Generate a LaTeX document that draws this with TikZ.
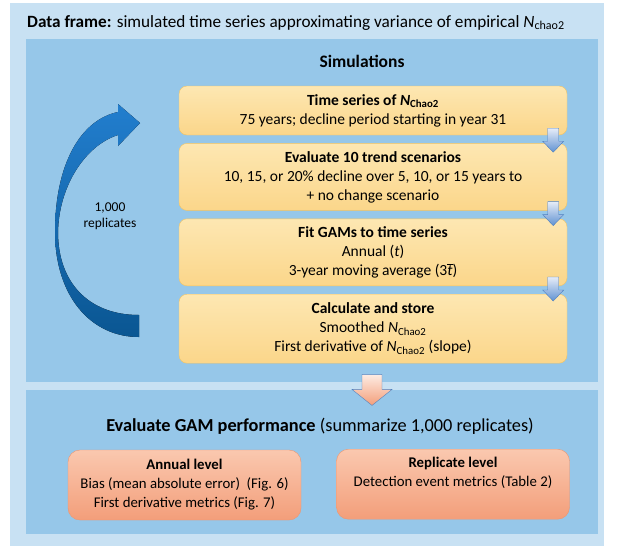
\documentclass[tikz,border=0pt]{standalone}
\usepackage{fontspec}
\setmainfont{Carlito}
\usetikzlibrary{positioning,calc}
\definecolor{framebg}{RGB}{200,225,243}
\definecolor{simbg}{RGB}{150,199,233}
\definecolor{steptop}{RGB}{253,231,178}
\definecolor{stepbot}{RGB}{251,214,138}
\definecolor{stepline}{RGB}{244,196,96}
\definecolor{evaltop}{RGB}{250,200,175}
\definecolor{evalbot}{RGB}{243,158,122}
\definecolor{evalline}{RGB}{238,150,112}
\definecolor{looptop}{RGB}{34,126,206}
\definecolor{loopbot}{RGB}{10,86,146}
\definecolor{arrline}{RGB}{78,128,192}
\definecolor{arrtop}{RGB}{230,236,248}
\definecolor{arrbot}{RGB}{96,146,210}
\tikzset{
    stepbox/.style = {draw=stepline, top color=steptop, bottom color=stepbot,
                 rounded corners=8pt, minimum width=388pt, align=center,
                 font=\fontsize{15.5}{19}\selectfont, inner sep=2pt},
    evalbox/.style = {draw=evalline, top color=evaltop, bottom color=evalbot,
                 rounded corners=12pt, minimum height=70pt, align=center,
                 font=\fontsize{14.8}{19}\selectfont, inner sep=2pt},
    smallarrow/.style = {draw=arrline, top color=arrtop, bottom color=arrbot},
    bigarrow/.style = {draw=arrline, top color=evaltop!35, bottom color=evalbot},
}
\newcommand{\Nch}[1]{\textit{N}\textsubscript{#1}}
% block arrow pointing down: [style]{top point}{shaft half}{head half}{shaft length}{head length}
\newcommand{\downblock}[6][]{\draw[#1] (#2) ++(-#3,0) -- ++(2*#3,0) -- ++(0,#5)
  -- ++(#4-#3,0) -- ++(-#4,#6) -- ++(-#4,-#6) -- ++(#4-#3,0) -- cycle;}

\begin{document}
\begin{tikzpicture}[x=1pt,y=-1pt]
\useasboundingbox (0,0) rectangle (618,550);
% panels
\fill[framebg] (10,3) rectangle (604,546);
\fill[simbg] (26,39) rectangle (598,382);
\fill[simbg] (26,390) rectangle (598,534);
\node (frame) [anchor=base west, inner sep=0pt, font=\fontsize{17.2}{20}\selectfont] at (27,27)
  {\textbf{Data frame:} simulated time series approximating variance of empirical \Nch{chao2}};
\node (sim) [font=\bfseries\fontsize{17.5}{20}\selectfont] at (362,61) {Simulations};

% simulation steps
\node (ts)  [stepbox, minimum height=49pt] at (373,110.5)
  {\textbf{Time series of \Nch{Chao2}}\\75 years; decline period starting in year 31};
\node (trend) [stepbox, minimum height=67pt, below=8pt of ts]
  {\textbf{Evaluate 10 trend scenarios}\\10, 15, or 20\% decline over 5, 10, or 15 years to\\+ no change scenario};
\node (fit) [stepbox, minimum height=67pt, below=8pt of trend]
  {\textbf{Fit GAMs to time series}\\Annual (\textit{t})\\3-year moving average (3$\overline{\mbox{\textit{t}}}$)};
\node (calc) [stepbox, minimum height=69pt, below=8pt of fit]
  {\textbf{Calculate and store}\\Smoothed \Nch{Chao2}\\First derivative of \Nch{Chao2} (slope)};

\coordinate (a1) at ($(ts.south east)+(-14,-7)$);
\coordinate (a2) at ($(trend.south east)+(-14,-9)$);
\coordinate (a3) at ($(fit.south east)+(-14,-9)$);
\downblock[smallarrow]{a1}{5.5}{10.5}{13}{11}
\downblock[smallarrow]{a2}{5.5}{10.5}{13}{11}
\downblock[smallarrow]{a3}{5.5}{10.5}{13}{11}

% replicate loop
\fill[top color=looptop, bottom color=loopbot]
  (139,337) .. controls (90,337) and (55,295) .. (55,232)
  .. controls (55,165) and (80,120) .. (118,112)
  -- (118,104) -- (140,123) -- (118,146) -- (118,135)
  .. controls (86,145) and (59,185) .. (58,232)
  .. controls (58,282) and (88,315) .. (139,315) -- cycle;
\node (rep) [align=center, font=\fontsize{13.5}{16}\selectfont] at (110,216) {1,000\\replicates};

% evaluation
\coordinate (big) at ($(calc.south)+(-1,11)$);
\downblock[bigarrow]{big}{10}{20}{15}{16}
\node (gam) [font=\fontsize{18.3}{21}\selectfont] at (320,426)
  {\textbf{Evaluate GAM performance} (summarize 1,000 replicates)};
\node (annual) [evalbox, minimum width=233pt] at (184.5,485)
  {\textbf{Annual level}\\Bias (mean absolute error)\ \ (Fig. 6)\\First derivative metrics (Fig. 7)};
\node (replic) [evalbox, minimum width=233pt, anchor=north] at (453,449)
  {\textbf{Replicate level}\\Detection event metrics (Table 2)\\\strut};
\end{tikzpicture}
\end{document}
